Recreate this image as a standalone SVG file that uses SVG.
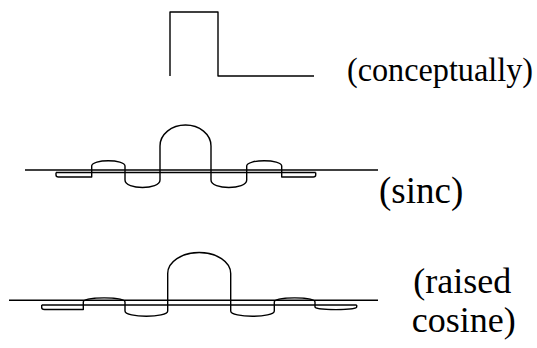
<svg xmlns="http://www.w3.org/2000/svg" width="537" height="348" viewBox="0 0 537 348">
<style>
.ln{fill:none;stroke:#000;stroke-width:1.4;stroke-linejoin:round}
.t{font-family:'Liberation Serif','Times New Roman',serif;fill:#000}
</style>
<rect width="537" height="348" fill="#fff"/>
<g id="pulse">
<path class="ln" d="M170,76 V12 H218 V76 H314"/>
<text class="t" x="347" y="81" font-size="33" textLength="186" lengthAdjust="spacingAndGlyphs">(conceptually)</text>
</g>
<g id="sinc">
<path class="ln" d="M25,170 H378"/>
<path class="ln" d="M56,172.5 H315.7"/>
<path class="ln" d="M56,172.5 V175 Q56,177 58.5,177 H91.7 V166 C91.7,159 125,159 125,166 V180 C125,190 160,190 160,180 V146 A25.5,21 0 0 1 211,146 V180 C211,190 246.7,190 246.7,180 V166 C246.7,159 281.7,159 281.7,166 V177 H313.2 Q315.7,177 315.7,175 V172.5"/>
<text class="t" x="379" y="202.7" font-size="37">(sinc)</text>
</g>
<g id="raised-cosine">
<path class="ln" d="M9,300.3 H378"/>
<path class="ln" d="M41.7,305 H356.7"/>
<path class="ln" d="M41.7,305 V307.5 Q41.7,309.5 44.5,309.5 H83.3 V302 C83.3,296.5 125,296.5 125,302 V311 C125,318 167.7,318 167.7,311 V273.5 A31.5,21 0 0 1 230.7,273.5 V311 C230.7,318 274.3,318 274.3,311 V302 C274.3,296.5 315,296.5 315,302 V307 C315,310.5 356.7,310.5 356.7,307 V305"/>
<text class="t" font-size="36"><tspan x="413.3" y="293.3">(raised</tspan><tspan x="411.8" y="331.7">cosine)</tspan></text>
</g>
</svg>
